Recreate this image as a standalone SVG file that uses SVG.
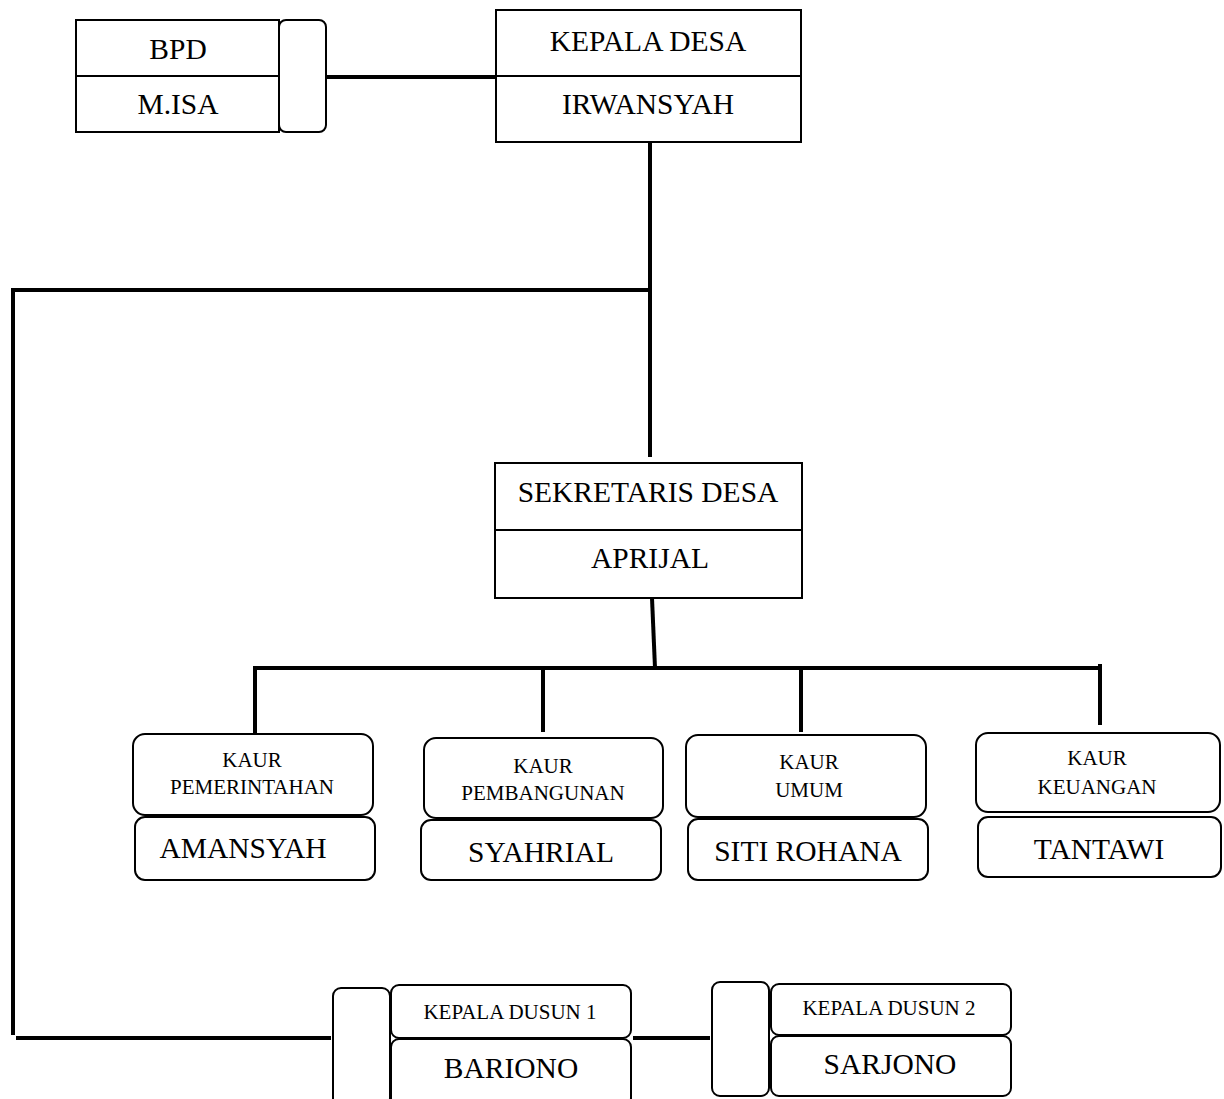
<svg xmlns="http://www.w3.org/2000/svg" width="1224" height="1099" viewBox="0 0 1224 1099">
<style>
.bx{fill:#fff;stroke:#000;stroke-width:2}
.ln{stroke:#000;stroke-width:4;fill:none}
text{font-family:"Liberation Serif","Times New Roman",serif;fill:#000;text-anchor:middle}
.big{font-size:29.5px}
.sm{font-size:21px}
</style>
<rect width="1224" height="1099" fill="#fff"/>
<g id="connectors">
<line class="ln" x1="326" y1="77" x2="497" y2="77"/>
<line class="ln" x1="650" y1="142" x2="650" y2="457"/>
<line class="ln" x1="11" y1="290" x2="652" y2="290"/>
<line class="ln" x1="13" y1="290" x2="13" y2="1035"/>
<line class="ln" x1="16" y1="1038" x2="331" y2="1038"/>
<line class="ln" x1="652" y1="598" x2="655" y2="668"/>
<line class="ln" x1="253" y1="668" x2="1100" y2="668"/>
<line class="ln" x1="255" y1="668" x2="255" y2="733"/>
<line class="ln" x1="543" y1="668" x2="543" y2="732"/>
<line class="ln" x1="801" y1="668" x2="801" y2="732"/>
<line class="ln" x1="1100" y1="664" x2="1100" y2="725"/>
<line class="ln" x1="633" y1="1038" x2="710" y2="1038"/>
</g>
<g id="bpd">
<rect class="bx" x="76" y="20" width="203" height="112"/>
<line class="bx" x1="76" y1="76" x2="279" y2="76"/>
<rect class="bx" x="279" y="20" width="47" height="112" rx="7"/>
<text class="big" x="178" y="59">BPD</text>
<text class="big" x="178" y="114">M.ISA</text>
</g>
<g id="kepala-desa">
<rect class="bx" x="496" y="10" width="305" height="132"/>
<line class="bx" x1="496" y1="76" x2="801" y2="76"/>
<text class="big" x="648" y="51">KEPALA DESA</text>
<text class="big" x="648" y="114">IRWANSYAH</text>
</g>
<g id="sekretaris">
<rect class="bx" x="495" y="463" width="307" height="135"/>
<line class="bx" x1="495" y1="530" x2="802" y2="530"/>
<text class="big" x="648" y="502">SEKRETARIS DESA</text>
<text class="big" x="650" y="568">APRIJAL</text>
</g>
<g id="kaur-pemerintahan">
<rect class="bx" x="133" y="734" width="240" height="81" rx="12"/>
<rect class="bx" x="135" y="817" width="240" height="63" rx="10"/>
<text class="sm" x="252" y="767">KAUR</text>
<text class="sm" x="252" y="794">PEMERINTAHAN</text>
<text class="big" x="243" y="858">AMANSYAH</text>
</g>
<g id="kaur-pembangunan">
<rect class="bx" x="424" y="738" width="239" height="80" rx="12"/>
<rect class="bx" x="421" y="820" width="240" height="60" rx="10"/>
<text class="sm" x="543" y="773">KAUR</text>
<text class="sm" x="543" y="800">PEMBANGUNAN</text>
<text class="big" x="541" y="862">SYAHRIAL</text>
</g>
<g id="kaur-umum">
<rect class="bx" x="686" y="735" width="240" height="82" rx="12"/>
<rect class="bx" x="688" y="819" width="240" height="61" rx="10"/>
<text class="sm" x="809" y="769">KAUR</text>
<text class="sm" x="809" y="797">UMUM</text>
<text class="big" x="808" y="861">SITI ROHANA</text>
</g>
<g id="kaur-keuangan">
<rect class="bx" x="976" y="733" width="244" height="79" rx="12"/>
<rect class="bx" x="978" y="817" width="243" height="60" rx="10"/>
<text class="sm" x="1097" y="765">KAUR</text>
<text class="sm" x="1097" y="794">KEUANGAN</text>
<text class="big" x="1099" y="859">TANTAWI</text>
</g>
<g id="kepala-dusun-1">
<rect class="bx" x="333" y="988" width="57" height="118" rx="8"/>
<rect class="bx" x="391" y="985" width="240" height="53" rx="8"/>
<rect class="bx" x="391" y="1039" width="240" height="67" rx="8"/>
<text class="sm" x="510" y="1019">KEPALA DUSUN 1</text>
<text class="big" x="511" y="1078">BARIONO</text>
</g>
<g id="kepala-dusun-2">
<rect class="bx" x="712" y="982" width="57" height="114" rx="8"/>
<rect class="bx" x="771" y="984" width="240" height="51" rx="8"/>
<rect class="bx" x="771" y="1036" width="240" height="60" rx="8"/>
<text class="sm" x="889" y="1015">KEPALA DUSUN 2</text>
<text class="big" x="890" y="1074">SARJONO</text>
</g>
</svg>
